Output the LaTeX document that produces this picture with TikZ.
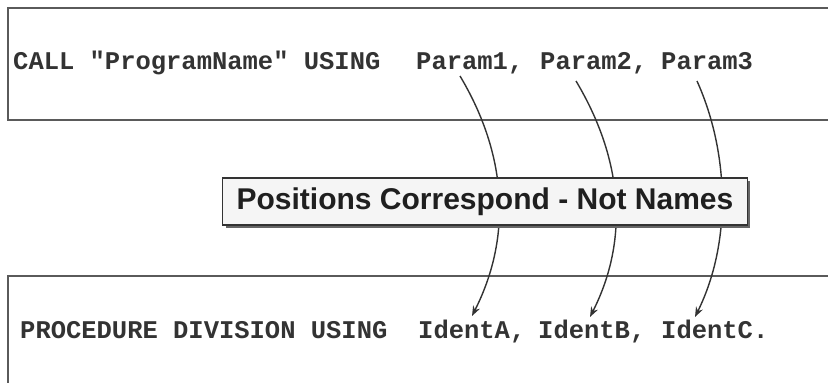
\documentclass[tikz,border=0pt]{standalone}
\usepackage{fontspec}
\newfontfamily\codefont{Liberation Mono}
\newfontfamily\labelfont{Liberation Sans}
\usetikzlibrary{arrows.meta}
\definecolor{ink}{HTML}{333333}
\definecolor{frame}{HTML}{5A5A5A}
\tikzset{
  code/.style={font=\codefont\fontsize{25.5}{26}\selectfont\bfseries, text=ink, inner sep=0pt, anchor=base west},
  framebox/.style={draw=frame, line width=2pt},
  link/.style={draw=ink, line width=1.4pt, -{Stealth[length=10pt,width=7.5pt]}},
  tag/.style={draw=ink, line width=1.5pt, fill=black!4, inner xsep=14pt, minimum height=47pt, minimum width=524pt,
    font=\labelfont\bfseries\fontsize{30}{31}\selectfont, text=black!88},
}
\begin{document}
\begin{tikzpicture}[x=1pt,y=-1pt]
\useasboundingbox (0,0) rectangle (828,383);
\clip (0,0) rectangle (828,383);
\fill[white] (0,0) rectangle (828,383);
% frames
\draw[framebox] (840,8) -- (8,8) -- (8,120) -- (840,120);
\draw[framebox] (840,276) -- (8,276) -- (8,395);
% top line of code
\node[code] (call) at (13,69.5) {CALL "ProgramName" USING};
\node[code] (p1) at (416,69.5) {Param1,};
\node[code] (p2) at (540,69.5) {Param2,};
\node[code] (p3) at (661,69.5) {Param3};
% bottom line of code
\node[code] (proc) at (20,338) {PROCEDURE DIVISION USING};
\node[code] (ia) at (418,338) {IdentA,};
\node[code] (ib) at (538,338) {IdentB,};
\node[code] (ic) at (661,338) {IdentC.};
% connector ends
\coordinate (s1) at (460,76);
\coordinate (s2) at (576,81);
\coordinate (s3) at (697,81);
\coordinate (e1) at (472,316);
\coordinate (e2) at (590,317);
\coordinate (e3) at (695,317);
\draw[link] (s1) .. controls (506,153) and (513,235) .. (e1);
\draw[link] (s2) .. controls (622,158) and (630,238) .. (e2);
\draw[link] (s3) .. controls (728,150) and (733,240) .. (e3);
% label box with shadow
\fill[black!60] (226,181) rectangle (750,228);
\node[tag] (lbl) at (485,201.5) {Positions Correspond - Not Names};
\end{tikzpicture}
\end{document}
